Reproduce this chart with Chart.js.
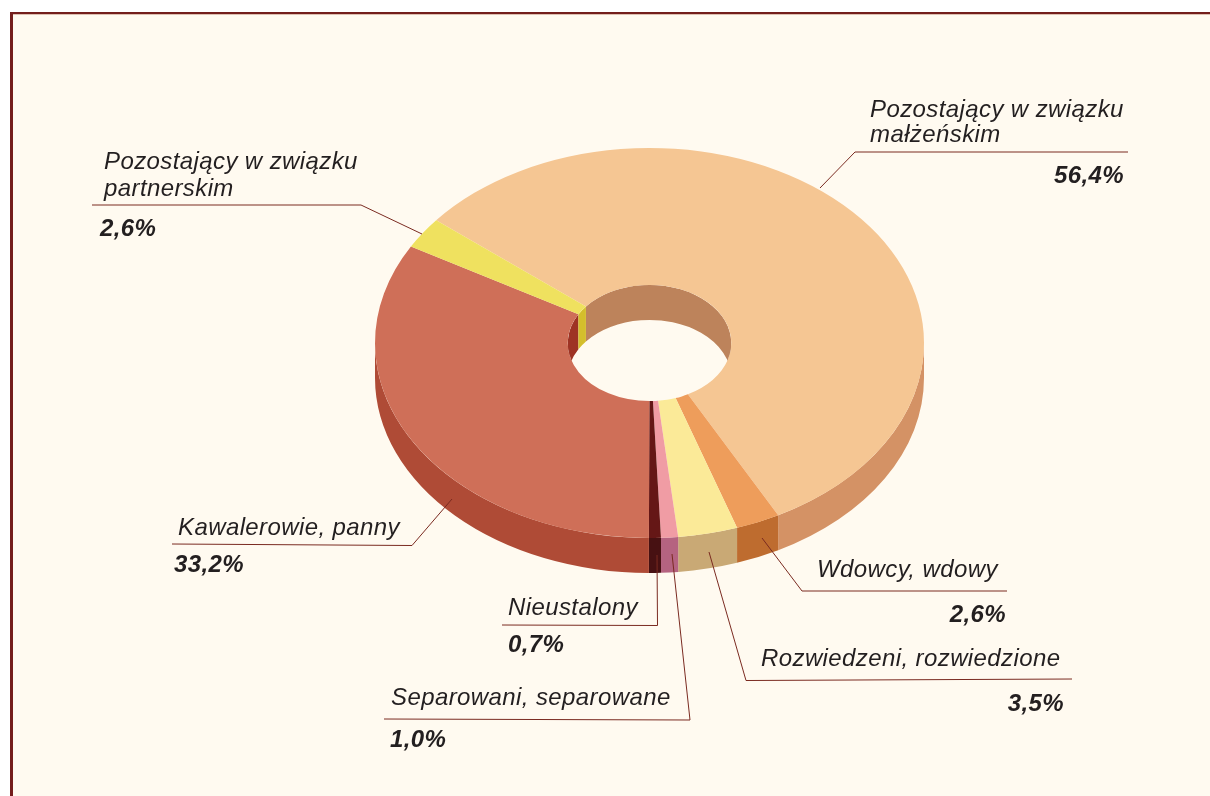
<!DOCTYPE html>
<html lang="pl">
<head>
<meta charset="utf-8">
<title>Wykres</title>
<script src="https://cdn.jsdelivr.net/npm/chart.js@4"></script>
<style>
html,body{margin:0;padding:0;background:#fff;overflow:hidden}
#frame{position:absolute;left:10px;top:12px;width:1200px;height:784px;box-sizing:border-box;background:#FFFAF0;border-top:2px solid #741E1C;border-left:3px solid #741E1C;box-shadow:inset 0 1px 0 #DDBFB0}
#c{position:absolute;left:0;top:0}
</style>
</head>
<body>
<div id="frame"></div>
<canvas id="c" width="1210" height="796"></canvas>
<script>
const categories = [
  ["Pozostający w związku", "małżeńskim"],
  ["Wdowcy, wdowy"],
  ["Rozwiedzeni, rozwiedzione"],
  ["Separowani, separowane"],
  ["Nieustalony"],
  ["Kawalerowie, panny"],
  ["Pozostający w związku", "partnerskim"]
];
const values = [56.4, 2.6, 3.5, 1.0, 0.7, 33.2, 2.6];
const topColors  = ["#F5C693", "#EE9D5B", "#FBEA98", "#F09CA4", "#651716", "#CF6F58", "#EFE15F"];
const sideColors = ["#D49265", "#BE6C2F", "#C9A975", "#B56380", "#471112", "#AF4B36", "#C9B030"];
const wallColors = ["#BD835B", "#A8602C", "#B89A68", "#A05A72", "#471112", "#9E3324", "#D4BE2C"];

// layout of the pseudo-3D view
const TILT = 0.7104, DEPTH = 35;

// callout layout, same order as categories
const callouts = [
  {pts:[[820,188],[855,152],[1128,152]], x:870, base:[117,142], vx:1124, vy:183, va:"right"},
  {pts:[[762,538],[802,591],[1007,591]], x:817, base:[577], vx:1006, vy:622, va:"right"},
  {pts:[[709,552],[746,680.5],[1072,679]], x:761, base:[666], vx:1064, vy:711, va:"right"},
  {pts:[[672,554],[690,720],[384,719]], x:391, base:[705], vx:390, vy:747, va:"left"},
  {pts:[[657,555],[657.5,625.5],[502,625]], x:508, base:[615], vx:508, vy:652, va:"left"},
  {pts:[[452,499],[412,545.5],[172,544]], x:178, base:[535], vx:174, vy:572, va:"left"},
  {pts:[[422,234],[361,205],[92,205]], x:104, base:[169,196], vx:100, vy:236, va:"left"}
];

function view(ctx, chart, dy) {
  const a = chart.getDatasetMeta(0).data[0];
  ctx.setTransform(1, 0, 0, TILT, 0, a.y + dy - a.y * TILT);
}
// band swept between a rim at the top face and the same rim DEPTH lower,
// limited to the half turn of the rim that can be seen (starting at `from`)
function sweep(ctx, chart, a, r, color, from) {
  const turn = Math.PI * 2;
  for (let k = -1; k <= 1; k++) {
    const s = Math.max(a.startAngle, from + k * turn);
    const e = Math.min(a.endAngle, from + Math.PI + k * turn);
    if (s >= e) continue;
    ctx.beginPath();
    view(ctx, chart, DEPTH);
    ctx.arc(a.x, a.y, r, s, e);
    view(ctx, chart, 0);
    ctx.arc(a.x, a.y, r, e, s, true);
    ctx.closePath();
    ctx.setTransform(1, 0, 0, 1, 0, 0);
    ctx.fillStyle = color;
    ctx.fill();
  }
}
const solid3d = {
  id: "solid3d",
  beforeDatasetsDraw(chart) {
    const ctx = chart.ctx, arcs = chart.getDatasetMeta(0).data;
    arcs.forEach((a, i) => sweep(ctx, chart, a, a.outerRadius, sideColors[i], 0));
    ctx.save();
    view(ctx, chart, 0);
  },
  afterDatasetsDraw(chart) {
    const ctx = chart.ctx, arcs = chart.getDatasetMeta(0).data;
    ctx.restore();
    ctx.save();
    view(ctx, chart, 0);
    ctx.beginPath();
    ctx.arc(arcs[0].x, arcs[0].y, arcs[0].innerRadius, 0, Math.PI * 2);
    ctx.setTransform(1, 0, 0, 1, 0, 0);
    ctx.clip();
    arcs.forEach((a, i) => sweep(ctx, chart, a, a.innerRadius, wallColors[i], Math.PI));
    ctx.restore();
  }
};
const callout = {
  id: "callout",
  afterDraw(chart) {
    const ctx = chart.ctx;
    ctx.save();
    ctx.textBaseline = "alphabetic";
    categories.forEach((lines, i) => {
      const c = callouts[i];
      ctx.beginPath();
      c.pts.forEach((p, j) => j ? ctx.lineTo(p[0], p[1]) : ctx.moveTo(p[0], p[1]));
      ctx.strokeStyle = "#7A2A20";
      ctx.lineWidth = 1;
      ctx.stroke();
      ctx.fillStyle = "#231F20";
      ctx.textAlign = "left";
      ctx.font = 'italic 24px "Liberation Sans"';
      ctx.letterSpacing = "0.4px";
      lines.forEach((t, k) => ctx.fillText(t, c.x, c.base[k]));
      ctx.font = 'italic bold 24px "Liberation Sans"';
      ctx.textAlign = c.va;
      ctx.fillText(values[i].toFixed(1).replace(".", ",") + "%", c.vx, c.vy);
    });
    ctx.restore();
  }
};

new Chart(document.getElementById("c"), {
  type: "doughnut",
  data: {
    labels: categories.map(l => l.join(" ")),
    datasets: [{ data: values, backgroundColor: topColors, borderWidth: 0, clip: false }]
  },
  options: {
    responsive: false,
    animation: false,
    events: [],
    rotation: -51,
    cutout: "29.8%",
    layout: { padding: { left: 375, right: 286, top: 68.5, bottom: 178.5 } },
    plugins: { legend: { display: false }, tooltip: { enabled: false }, title: { display: false } }
  },
  plugins: [solid3d, callout]
});
</script>
</body>
</html>
